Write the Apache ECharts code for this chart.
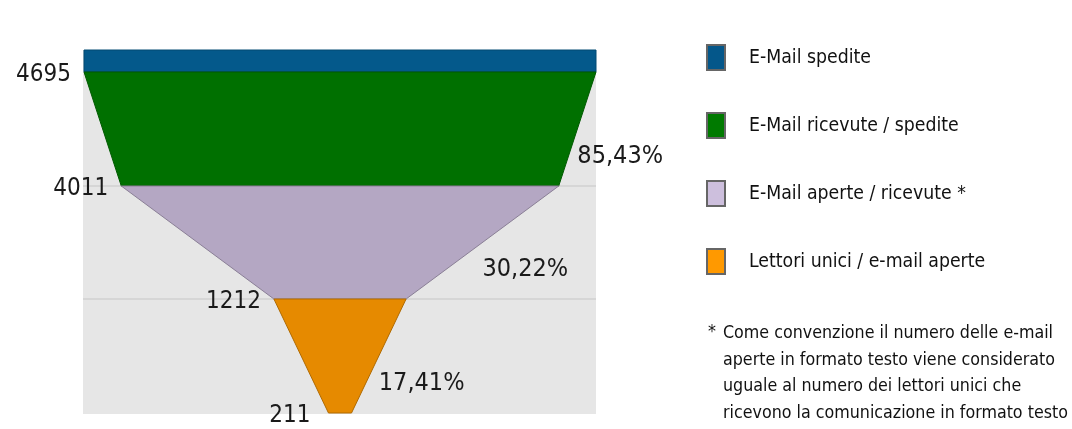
<!DOCTYPE html>
<html>
<head>
<meta charset="utf-8">
<script src="https://cdn.jsdelivr.net/npm/echarts@6/dist/echarts.min.js"></script>
<style>
html, body { margin: 0; padding: 0; background: #fff; }
#chart { width: 1072px; height: 429px; }
</style>
</head>
<body>
<div id="chart"></div>
<script>
// data
var stages = ['E-Mail spedite', 'E-Mail ricevute / spedite', 'E-Mail aperte / ricevute *', 'Lettori unici / e-mail aperte'];
var counts = [4695, 4011, 1212, 211];
var rates = ['85,43%', '30,22%', '17,41%'];
var footnote = [
  'Come convenzione il numero delle e-mail',
  'aperte in formato testo viene considerato',
  'uguale al numero dei lettori unici che',
  'ricevono la comunicazione in formato testo'
];

// styles / layout
var colors = ['#04598b', '#007000', '#b4a7c3', '#e68a00'];
var borders = ['#034a73', '#005a00', '#8a7f96', '#b06a00'];
var legendColors = ['#04578a', '#007a00', '#cdbfdd', '#ff9900'];
var FONT = "'DejaVu Sans Condensed', 'DejaVu Sans', sans-serif";
var FX = 84, FW = 512, FY = 50;
var segH = [22, 114, 113, 114];
var totalH = segH.reduce(function (a, b) { return a + b; }, 0);

// each stage is drawn from the previous count (top edge) to the next one (bottom edge)
function shapeData() {
  var list = stages.map(function (name, i) {
    return {
      name: name,
      value: i === 0 ? counts[0] : counts[i - 1],
      itemStyle: { height: segH[i] }
    };
  });
  list.push({ name: 'fine', value: counts[counts.length - 1], itemStyle: { height: 0 } });
  return list;
}

var mainData = shapeData().map(function (d, i) {
  var last = i === stages.length;
  d.itemStyle.color = last ? 'rgba(0,0,0,0)' : colors[i];
  d.itemStyle.borderColor = last ? 'rgba(0,0,0,0)' : borders[i];
  d.itemStyle.borderWidth = last ? 0 : 1;
  d.label = { show: i > 0 };
  d.labelLine = { show: false, length: last ? 13 : 8 };
  return d;
});

var rateData = shapeData().map(function (d, i) {
  d.itemStyle.color = 'rgba(0,0,0,0)';
  d.itemStyle.borderWidth = 0;
  d.label = { show: i > 0 && i <= rates.length };
  d.labelLine = { show: false, length: 0 };
  return d;
});

var lineYs = [FY + segH[0] + segH[1], FY + segH[0] + segH[1] + segH[2]];

var chart = echarts.init(document.getElementById('chart'));
chart.setOption({
  backgroundColor: '#fff',
  animation: false,
  legend: {
    data: stages.map(function (s, i) {
      return { name: s, itemStyle: { color: legendColors[i] } };
    }),
    orient: 'vertical',
    left: 706,
    top: 44,
    padding: 0,
    icon: 'rect',
    itemWidth: 18,
    itemHeight: 25,
    itemGap: 41,
    selectedMode: false,
    itemStyle: { borderColor: '#666', borderWidth: 2 },
    textStyle: { fontFamily: FONT, fontSize: 19.3, color: '#111', padding: [0, 0, 0, 19] }
  },
  graphic: [
    { type: 'rect', z: -1, shape: { x: FX - 1, y: FY, width: FW + 1, height: totalH + 1 }, style: { fill: '#e6e6e6' } },
    { type: 'line', z: -1, shape: { x1: FX - 1, y1: lineYs[0], x2: FX + FW, y2: lineYs[0] }, style: { stroke: '#d6d6d6', lineWidth: 2 } },
    { type: 'line', z: -1, shape: { x1: FX - 1, y1: lineYs[1], x2: FX + FW, y2: lineYs[1] }, style: { stroke: '#d6d6d6', lineWidth: 2 } },
    { type: 'text', left: 708, top: 323, style: { text: '*', font: '17.7px ' + FONT, fill: '#111' } },
    { type: 'text', left: 723, top: 320, style: { text: footnote.join('\n'), font: '17.7px ' + FONT, lineHeight: 26.7, fill: '#111' } }
  ],
  series: [
    {
      type: 'funnel',
      sort: 'none',
      left: FX, top: FY, width: FW, height: totalH,
      min: 0, max: counts[0], minSize: 0, maxSize: '100%',
      gap: 0,
      silent: true,
      label: { position: 'leftTop', formatter: '{c}', color: '#1a1a1a', fontFamily: FONT, fontSize: 24 },
      labelLayout: { dy: 3 },
      emphasis: { disabled: true },
      data: mainData
    },
    {
      type: 'funnel',
      sort: 'none',
      left: FX, top: FY, width: FW, height: totalH,
      min: 0, max: counts[0], minSize: 0, maxSize: '100%',
      gap: 0,
      silent: true,
      label: {
        position: 'right', color: '#1a1a1a', fontFamily: FONT, fontSize: 25,
        formatter: function (p) { return rates[p.dataIndex - 1]; }
      },
      labelLayout: { dx: -5, dy: 27 },
      emphasis: { disabled: true },
      data: rateData
    }
  ]
});
</script>
</body>
</html>
